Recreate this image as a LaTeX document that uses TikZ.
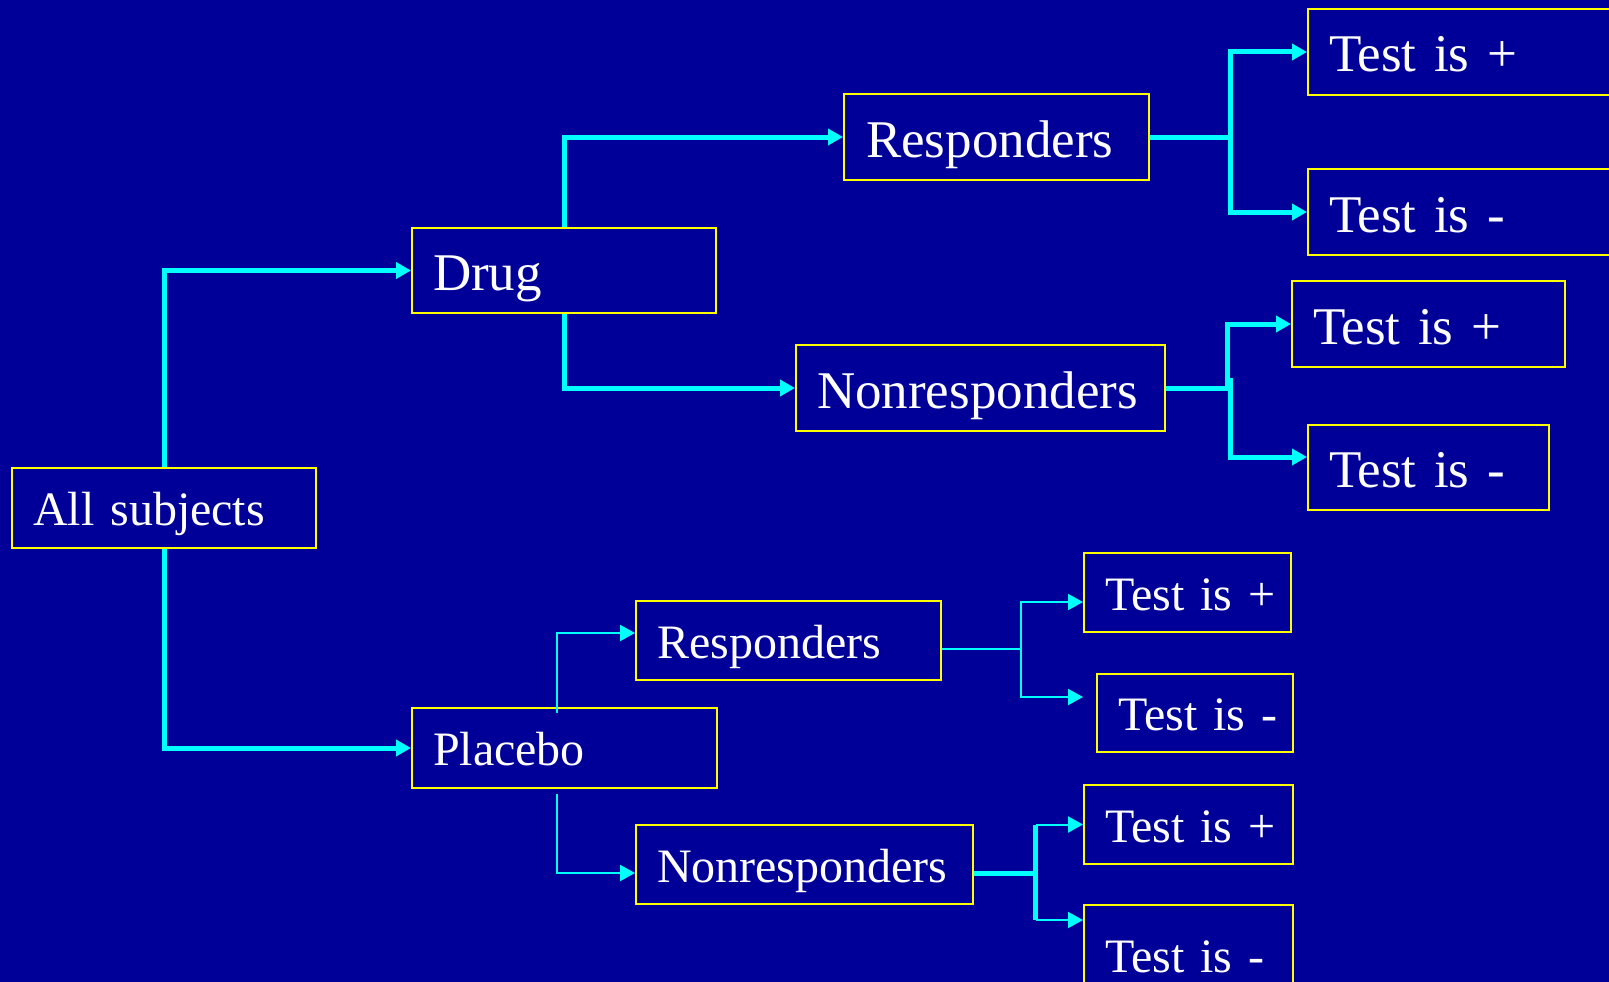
\documentclass[tikz,border=0pt]{standalone}
\usepackage{fontspec}
\setmainfont{Liberation Serif}
\usetikzlibrary{arrows.meta,calc}

\definecolor{slidebg}{RGB}{0,0,153}
\definecolor{boxline}{RGB}{255,255,0}
\definecolor{flow}{RGB}{0,255,255}

\tikzset{
  box/.style={draw=boxline, line width=2pt, rectangle, anchor=north west,
    inner xsep=21pt, inner ysep=0pt, align=left, text=white, text depth=0pt,
    execute at begin node={\leavevmode\hbox\bgroup},
    execute at end node={\egroup}},
  bigtext/.style={font=\fontsize{53pt}{60pt}\selectfont, text height=40pt},
  smalltext/.style={font=\fontsize{48pt}{56pt}\selectfont, text height=35pt},
  flowtip/.style={-{Triangle[length=15pt,width=16pt]}},
  heavyarrow/.style={draw=flow, line width=5pt, flowtip},
  lightarrow/.style={draw=flow, line width=2pt, flowtip},
  heavyline/.style={draw=flow, line width=5pt},
}

\begin{document}
\begin{tikzpicture}[x=1pt,y=-1pt]
\useasboundingbox (0,0) rectangle (1609,982);
\fill[slidebg] (0,0) rectangle (1609,982);

% first level
\node[box,smalltext,text width=262pt,minimum height=80pt] (all) at (11,467) {All subjects};
\node[box,bigtext,text width=262pt,minimum height=85pt] (drug) at (411,227) {Drug};
\node[box,smalltext,text width=263pt,minimum height=80pt] (placebo) at (411,707) {Placebo};

% drug arm
\node[box,bigtext,minimum height=86pt,inner xsep=22pt,text width=261pt] (r1) at (843,93) {Responders};
\node[box,bigtext,text width=327pt,minimum height=86pt] (n1) at (795,344) {Nonresponders};
\node[box,bigtext,text width=278pt,minimum height=86pt] (t1p) at (1307,8) {Test is +};
\node[box,bigtext,text width=278pt,minimum height=86pt] (t1m) at (1307,168) {Test is -};
\node[box,bigtext,text width=231pt,minimum height=86pt] (t2p) at (1291,280) {Test is +};
\node[box,bigtext,text width=199pt,minimum height=85pt] (t2m) at (1307,424) {Test is -};

% placebo arm
\node[box,smalltext,text width=263pt,minimum height=79pt] (r2) at (635,600) {Responders};
\node[box,smalltext,text width=295pt,minimum height=79pt] (n2) at (635,824) {Nonresponders};
\node[box,smalltext,text width=165pt,minimum height=79pt] (t3p) at (1083,552) {Test is +};
\node[box,smalltext,text width=154pt,minimum height=78pt] (t3m) at (1096,673) {Test is -};
\node[box,smalltext,text width=167pt,minimum height=79pt] (t4p) at (1083,784) {Test is +};
\node[box,smalltext,text width=167pt,minimum height=100pt] (t4m) at (1083,904) {Test is -};

% split by treatment
\draw[heavyarrow] (all.north) |- (drug.west);
\draw[heavyarrow] (all.south) |- (placebo.west);

% drug arm connectors
\draw[heavyarrow] (drug.north) |- (r1.west);
\draw[heavyarrow] (drug.south) |- (n1.west);
\draw[heavyarrow] (r1.east) -- ++(80,0) |- (t1p.west);
\draw[heavyarrow] (r1.east) -- ++(80,0) |- (t1m.west);
\draw[heavyarrow] (n1.east) -- ++(61,0) |- (t2p.west);
\draw[heavyarrow] ($(n1.east)+(64,-10)$) |- ($(t2m.west)+(0,-10.5)$);

% placebo arm connectors
\draw[lightarrow] ($(placebo.north)+(-8,6)$) |- ($(r2.west)+(0,-7.5)$);
\draw[lightarrow] ($(placebo.south)+(-8,5)$) |- ($(n2.west)+(0,8.5)$);
\draw[lightarrow] ($(r2.east)+(0,8.5)$) -- ++(79,0) |- ($(t3p.west)+(0,9.5)$);
\draw[lightarrow] ($(r2.east)+(0,8.5)$) -- ++(79,0) |- ($(t3m.west -| t3p.west)+(0,-16)$);
\draw[heavyline] ($(n2.east)+(0,8.5)$) -- ++(63,0);
\draw[lightarrow] ($(n2.east)+(63,8.5)$) |- (t4p.west);
\draw[lightarrow] ($(n2.east)+(63,8.5)$) |- ($(t4m.north west)+(0,16)$);
\draw[heavyline] ($(t4p.west)+(-48,0)$) -- ($(t4m.north west)+(-48,16)$);
\end{tikzpicture}
\end{document}
